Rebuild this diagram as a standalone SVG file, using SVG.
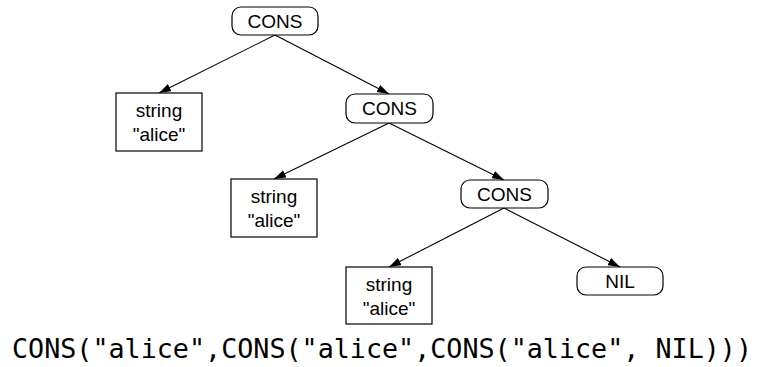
<svg xmlns="http://www.w3.org/2000/svg" width="767" height="367" viewBox="0 0 767 367">
  <style>
    .node rect { fill: #fff; stroke: #000; stroke-width: 1.2; }
    .lbl { font-family: "Liberation Sans", Arial, sans-serif; font-size: 19px; fill: #000; text-anchor: middle; }
    .edge { stroke: #000; stroke-width: 1.1; fill: none; marker-end: url(#arrow); }
    .code { font-family: "DejaVu Sans Mono", monospace; font-size: 26px; fill: #000; }
  </style>
  <defs>
    <marker id="arrow" viewBox="0 0 12 8" refX="12" refY="4" markerWidth="12" markerHeight="8" markerUnits="userSpaceOnUse" orient="auto">
      <path d="M0,0 L12,4 L0,8 Z" fill="#000"/>
    </marker>
  </defs>

  <g id="connectors">
    <line class="edge" x1="275" y1="35" x2="159" y2="93"/>
    <line class="edge" x1="275" y1="35" x2="389" y2="94"/>
    <line class="edge" x1="389" y1="123" x2="274" y2="179"/>
    <line class="edge" x1="389" y1="123" x2="504" y2="180"/>
    <line class="edge" x1="504" y1="208" x2="389" y2="267"/>
    <line class="edge" x1="504" y1="208" x2="620" y2="267"/>
  </g>

  <g id="cons1" class="node">
    <rect x="232" y="7" width="86" height="28" rx="9"/>
    <text class="lbl" x="275" y="28">CONS</text>
  </g>
  <g id="str1" class="node">
    <rect x="116" y="93" width="86" height="58"/>
    <text class="lbl" x="159" y="117">string</text>
    <text class="lbl" x="159" y="141">"alice"</text>
  </g>
  <g id="cons2" class="node">
    <rect x="346" y="94" width="87" height="29" rx="9"/>
    <text class="lbl" x="389.5" y="115">CONS</text>
  </g>
  <g id="str2" class="node">
    <rect x="231" y="179" width="86" height="58"/>
    <text class="lbl" x="274" y="203">string</text>
    <text class="lbl" x="274" y="227">"alice"</text>
  </g>
  <g id="cons3" class="node">
    <rect x="461" y="180" width="87" height="28" rx="9"/>
    <text class="lbl" x="504.5" y="201">CONS</text>
  </g>
  <g id="str3" class="node">
    <rect x="346" y="267" width="86" height="57"/>
    <text class="lbl" x="389" y="291">string</text>
    <text class="lbl" x="389" y="315">"alice"</text>
  </g>
  <g id="nil" class="node">
    <rect x="577" y="267" width="86" height="28" rx="9"/>
    <text class="lbl" x="620" y="288">NIL</text>
  </g>

  <text class="code" x="12" y="358" textLength="740" lengthAdjust="spacingAndGlyphs">CONS("alice",CONS("alice",CONS("alice", NIL)))</text>
</svg>
